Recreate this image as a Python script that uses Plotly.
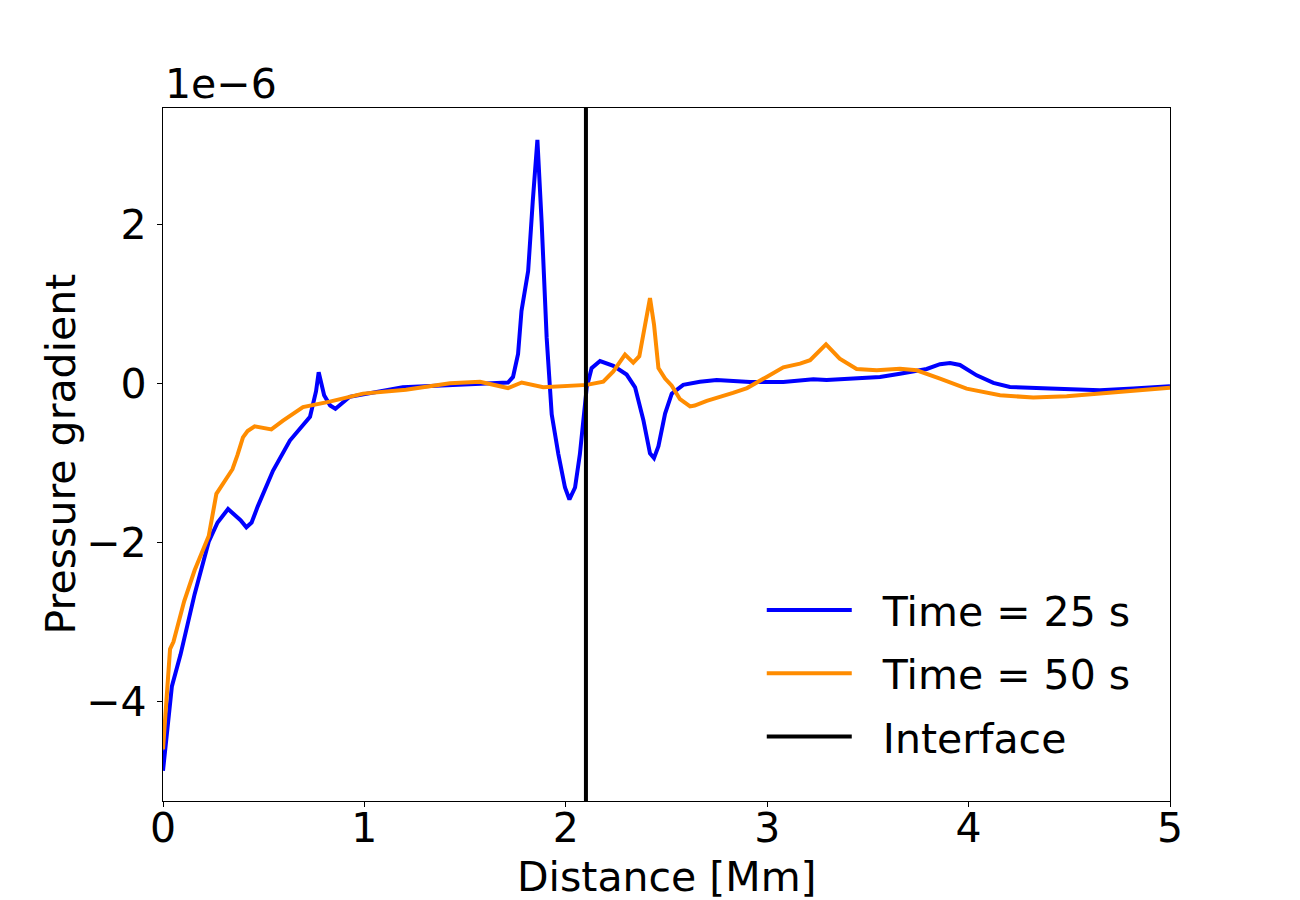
import plotly.graph_objects as go
import numpy as np

# distance in Mm, pressure gradient in units of 1e-6
x_25 = [0, 0.044, 0.087, 0.157, 0.227, 0.271, 0.323, 0.385, 0.414, 0.44, 0.47, 0.546, 0.63,
        0.70, 0.73, 0.76, 0.773, 0.80, 0.83, 0.856, 0.927, 1.19, 1.42, 1.59, 1.713, 1.738, 1.763,
        1.78, 1.813, 1.836, 1.859, 1.88, 1.905, 1.93, 1.963, 1.996, 2.018, 2.046, 2.07,
        2.104, 2.128, 2.17, 2.236, 2.302, 2.344, 2.385, 2.418, 2.438, 2.46, 2.493, 2.526,
        2.583, 2.666, 2.749, 2.915, 3.08, 3.229, 3.295, 3.411, 3.56, 3.659, 3.792, 3.858,
        3.908, 3.957, 4.04, 4.123, 4.205, 4.404, 4.652, 4.818, 5.0]
p_25 = [-4.87, -3.81, -3.41, -2.65, -1.99, -1.75, -1.58, -1.72, -1.81, -1.75, -1.55, -1.1, -0.72,
        -0.5, -0.42, -0.1, 0.14, -0.15, -0.28, -0.32, -0.17, -0.05, -0.02, 0.0, 0.01, 0.08, 0.37,
        0.91, 1.41, 2.29, 3.06, 2.03, 0.57, -0.39, -0.89, -1.31, -1.46, -1.31, -0.89,
        -0.05, 0.19, 0.28, 0.22, 0.11, -0.05, -0.46, -0.88, -0.94, -0.79, -0.38, -0.13,
        -0.02, 0.02, 0.04, 0.017, 0.017, 0.05, 0.04, 0.06, 0.08, 0.12, 0.18, 0.24,
        0.256, 0.23, 0.10, 0.005, -0.046, -0.067, -0.088, -0.067, -0.038]

x_50 = [0, 0.035, 0.052, 0.105, 0.157, 0.227, 0.265, 0.323, 0.345, 0.37, 0.397, 0.42, 0.455,
        0.538, 0.596, 0.695, 0.828, 0.993, 1.206, 1.425, 1.574, 1.713, 1.781, 1.888, 2.004, 2.104,
        2.186, 2.236, 2.294, 2.335, 2.365, 2.385, 2.418, 2.438, 2.46, 2.493, 2.526, 2.567,
        2.617, 2.64, 2.70, 2.83, 2.9, 2.997, 3.08, 3.163, 3.213, 3.292, 3.36, 3.444, 3.544,
        3.659, 3.742, 3.858, 3.99, 4.156, 4.321, 4.487, 4.735, 5.0]
p_50 = [-4.6, -3.34, -3.25, -2.74, -2.35, -1.92, -1.39, -1.18, -1.08, -0.9, -0.68, -0.6, -0.54,
        -0.58, -0.47, -0.3, -0.23, -0.13, -0.08, 0.0, 0.02, -0.06, 0.01, -0.05, -0.03, -0.02,
        0.02, 0.15, 0.36, 0.26, 0.34, 0.61, 1.07, 0.74, 0.19, 0.06, -0.03, -0.2,
        -0.29, -0.28, -0.22, -0.12, -0.06, 0.08, 0.2, 0.247, 0.29, 0.49, 0.31, 0.18, 0.163,
        0.184, 0.163, 0.059, -0.067, -0.15, -0.18, -0.163, -0.109, -0.055]

interface_x = 2.1
y_range = [-5.25, 3.46]
font = "DejaVu Sans"
pad = "\u00a0\u00a0"  # gap between legend line and label

fig = go.Figure()
fig.add_trace(go.Scatter(x=x_25, y=p_25, mode="lines", name=pad + "Time = 25 s", legendgroup="a",
                         line=dict(color="blue", width=4)))
fig.add_trace(go.Scatter(x=x_50, y=p_50, mode="lines", name=pad + "Time = 50 s", legendgroup="b",
                         line=dict(color="darkorange", width=4)))
fig.add_trace(go.Scatter(x=[interface_x, interface_x], y=y_range, mode="lines",
                         name=pad + "Interface", legendgroup="c",
                         line=dict(color="black", width=4)))

axis_style = dict(showline=True, linecolor="black", linewidth=1.3, mirror=True, automargin=False,
                  ticks="outside", ticklen=5, tickcolor="black", showgrid=False, zeroline=False,
                  tickfont=dict(size=41, color="black"))

# page body has an 8px margin, so the figure is 8px smaller and the margins shifted
fig.update_layout(
    width=1292, height=892,
    margin=dict(l=155, r=130, t=100, b=99),
    paper_bgcolor="white", plot_bgcolor="white",
    font=dict(family=font, size=41, color="black"),
    xaxis=dict(range=[0, 5], tickvals=[0, 1, 2, 3, 4, 5], ticklabelstandoff=-14, **axis_style),
    yaxis=dict(range=y_range, tickvals=[-4, -2, 0, 2], ticklabelstandoff=2, **axis_style),
    legend=dict(x=0.966, xanchor="right", y=0.045, yanchor="bottom", bgcolor="rgba(0,0,0,0)",
                font=dict(size=41), itemwidth=85, tracegroupgap=7, traceorder="grouped"),
    annotations=[
        dict(text="1e\u22126", xref="paper", yref="paper", x=0, y=1,
             xanchor="left", yanchor="bottom", showarrow=False, yshift=-2, font=dict(size=41)),
        dict(text="Distance [Mm]", xref="paper", yref="paper", x=0.5, y=0,
             xanchor="center", yanchor="middle", showarrow=False, yshift=-76, font=dict(size=41)),
        dict(text="Pressure gradient", xref="paper", yref="paper", x=0, y=0.5, textangle=-90,
             xanchor="center", yanchor="middle", showarrow=False, xshift=-103, font=dict(size=41)),
    ],
)

fig.write_html("out.html")
